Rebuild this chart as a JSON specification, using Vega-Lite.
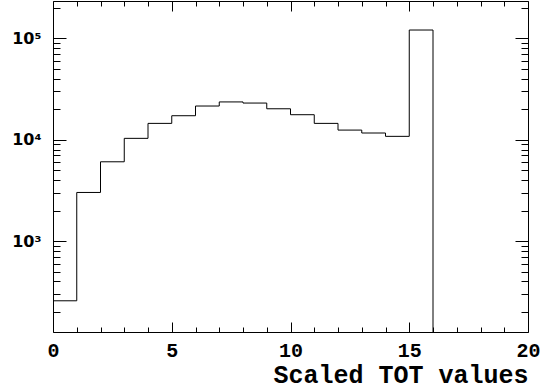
{
  "$schema": "https://vega.github.io/schema/vega-lite/v6.json",
  "width": 475,
  "height": 331,
  "autosize": {"type": "none"},
  "padding": {"left": 53, "top": 1, "right": 29, "bottom": 58},
  "background": "white",
  "config": {
    "view": {"stroke": "black", "strokeWidth": 1},
    "axis": {"domain": false, "grid": false, "tickColor": "black", "tickWidth": 1, "labelColor": "black", "titleColor": "black", "labelOverlap": false}
  },
  "data": {
    "values": [
      {"bin": 0, "count": 258},
      {"bin": 1, "count": 3020},
      {"bin": 2, "count": 6060},
      {"bin": 3, "count": 10320},
      {"bin": 4, "count": 14500},
      {"bin": 5, "count": 17250},
      {"bin": 6, "count": 21500},
      {"bin": 7, "count": 23600},
      {"bin": 8, "count": 23000},
      {"bin": 9, "count": 20200},
      {"bin": 10, "count": 17650},
      {"bin": 11, "count": 14500},
      {"bin": 12, "count": 12450},
      {"bin": 13, "count": 11650},
      {"bin": 14, "count": 10800},
      {"bin": 15, "count": 120800},
      {"bin": 16, "count": 1}
    ]
  },
  "layer": [
    {
      "mark": {"type": "line", "interpolate": "step-after", "color": "black", "strokeWidth": 1, "clip": true},
      "encoding": {
        "x": {
          "field": "bin", "type": "quantitative",
          "scale": {"domain": [0, 20], "nice": false, "zero": false},
          "axis": {"orient": "bottom", "values": [0, 5, 10, 15, 20], "ticks": false, "labelFont": "Liberation Mono", "labelFontWeight": "bold", "labelFontSize": 20, "labelPadding": 8, "labelFlush": false,
                   "title": "Scaled TOT values", "titleFont": "Liberation Mono", "titleFontWeight": "bold", "titleFontSize": 25, "titleAnchor": "end", "titleAlign": "right", "titlePadding": 2}
        },
        "y": {
          "field": "count", "type": "quantitative",
          "scale": {"type": "log", "domain": [127, 233500], "nice": false},
          "axis": {"orient": "left", "values": [1000, 10000, 100000], "ticks": false,
                   "labelExpr": "'10' + (datum.value > 50000 ? '⁵' : datum.value > 5000 ? '⁴' : '³')",
                   "labelFont": "DejaVu Sans", "labelFontWeight": "bold", "labelFontSize": 16, "labelPadding": 12, "title": null}
        }
      }
    },
    {
      "mark": {"type": "line", "strokeOpacity": 0},
      "encoding": {
        "x": {"field": "bin", "type": "quantitative", "axis": {"orient": "bottom", "values": [0, 5, 10, 15, 20], "tickSize": -10, "labels": false, "title": null}},
        "y": {"field": "count", "type": "quantitative", "axis": {"orient": "left", "values": [1000, 10000, 100000], "tickSize": -13, "labels": false, "title": null}}
      }
    },
    {
      "mark": {"type": "line", "strokeOpacity": 0},
      "encoding": {
        "x": {"field": "bin", "type": "quantitative", "axis": {"orient": "bottom", "values": [1,2,3,4,6,7,8,9,11,12,13,14,16,17,18,19], "tickSize": -5, "labels": false, "title": null}},
        "y": {"field": "count", "type": "quantitative", "axis": {"orient": "left", "values": [200,300,400,500,600,700,800,900,2000,3000,4000,5000,6000,7000,8000,9000,20000,30000,40000,50000,60000,70000,80000,90000,200000], "tickSize": -7, "labels": false, "title": null}}
      }
    },
    {
      "mark": {"type": "line", "strokeOpacity": 0},
      "encoding": {
        "x": {"field": "bin", "type": "quantitative", "axis": {"orient": "top", "values": [0, 5, 10, 15, 20], "tickSize": -10, "labels": false, "title": null}},
        "y": {"field": "count", "type": "quantitative", "axis": {"orient": "right", "values": [1000, 10000, 100000], "tickSize": -13, "labels": false, "title": null}}
      }
    },
    {
      "mark": {"type": "line", "strokeOpacity": 0},
      "encoding": {
        "x": {"field": "bin", "type": "quantitative", "axis": {"orient": "top", "values": [1,2,3,4,6,7,8,9,11,12,13,14,16,17,18,19], "tickSize": -5, "labels": false, "title": null}},
        "y": {"field": "count", "type": "quantitative", "axis": {"orient": "right", "values": [200,300,400,500,600,700,800,900,2000,3000,4000,5000,6000,7000,8000,9000,20000,30000,40000,50000,60000,70000,80000,90000,200000], "tickSize": -7, "labels": false, "title": null}}
      }
    }
  ],
  "resolve": {"axis": {"x": "independent", "y": "independent"}}
}
